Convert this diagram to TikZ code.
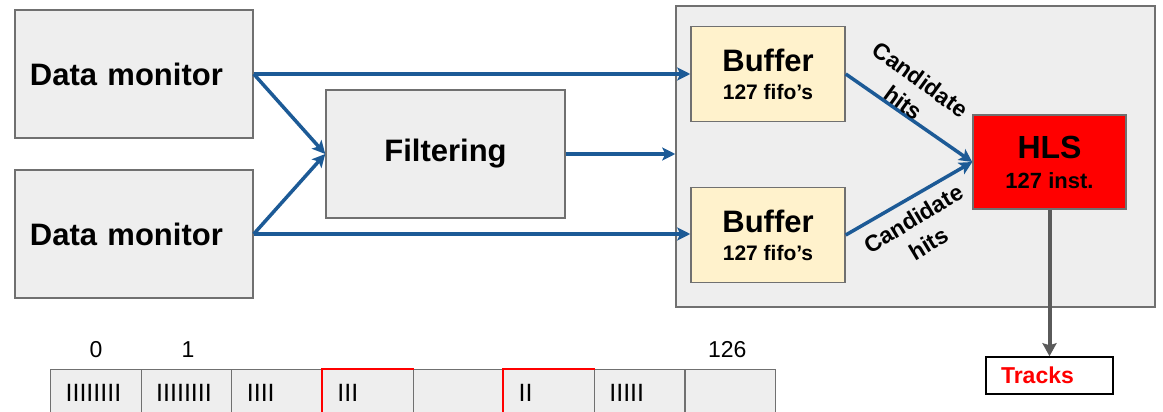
\documentclass[tikz,border=0pt]{standalone}
\usepackage{fontspec}
\setmainfont{Liberation Sans}
\usetikzlibrary{arrows.meta}
\definecolor{boxgray}{HTML}{EEEEEE}
\definecolor{edgegray}{HTML}{707070}
\definecolor{flowblue}{HTML}{1C5A96}
\definecolor{bufyellow}{HTML}{FFF2CC}
\definecolor{outgray}{HTML}{5A5A5A}
\begin{document}
\begin{tikzpicture}[x=1pt,y=-1pt,
  box/.style={draw=edgegray, fill=boxgray, line width=1.5pt, inner sep=0pt},
  dmbox/.style={box, minimum width=238, minimum height=128, inner xsep=15pt,
    text width=208pt, align=left, font=\fontsize{31}{37}\selectfont\bfseries},
  bufbox/.style={box, fill=bufyellow, minimum width=154, minimum height=95,
    align=center, font=\fontsize{21}{28}\selectfont\bfseries},
  hlsbox/.style={box, fill=red, minimum width=153, minimum height=94,
    align=center, font=\fontsize{22}{30}\selectfont\bfseries},
  bigfont/.style={font=\fontsize{31}{37}\selectfont\bfseries},
  flow/.style={draw=flowblue, line width=3.5pt,
    -{Stealth[length=13pt,width=13pt,inset=3pt]}},
  outflow/.style={draw=outgray, line width=4pt,
    -{Stealth[length=13pt,width=14pt,inset=2pt]}},
  cand/.style={align=center, inner sep=0pt, font=\fontsize{23}{29}\selectfont\bfseries},
  cell/.style={box, line width=1.2pt, minimum width=90.625, minimum height=46,
    inner xsep=15pt, text width=60.625pt, align=left, anchor=north west,
    font=\fontsize{25}{30}\selectfont},
  numlab/.style={inner sep=0pt, font=\fontsize{23}{27}\selectfont},
]
\clip (0,0) rectangle (1163,412);
\fill[white] (0,0) rectangle (1163,412);

% panel
\node[box, minimum width=479, minimum height=301] (panel) at (915.5,156.5) {};

% data monitors
\node[dmbox] (dm1) at (134,74) {Data monitor};
\node[dmbox] (dm2) at (134,234) {Data monitor};

% filtering
\node[box, minimum width=239, minimum height=128, bigfont] (filt) at (445.5,154) {Filtering};

% buffers
\node[bufbox] (buf1) at (768,74) {{\fontsize{31}{37}\selectfont Buffer}\\127 fifo’s};
\node[bufbox] (buf2) at (768,235) {{\fontsize{31}{37}\selectfont Buffer}\\127 fifo’s};

% HLS
\node[hlsbox] (hls) at (1049.5,162) {{\fontsize{32}{38}\selectfont HLS}\\127 inst.};

% tracks
\node[draw=black, fill=white, line width=1.5pt, inner sep=0pt, inner xsep=15pt,
  minimum width=127, minimum height=37, text width=97pt, align=left,
  text=red, font=\fontsize{23}{28}\selectfont\bfseries] (tracks) at (1049.5,375.5) {Tracks};

% arrows
\draw[flow] (dm1.east) -- (buf1.west);
\draw[flow] (dm1.east) -- (filt.west);
\draw[flow] (dm2.east) -- (filt.west);
\draw[flow] (dm2.east) -- (dm2.east -| buf2.west);
\draw[flow] (filt.east) -- (filt.east -| panel.west);
\draw[flow] (buf1.east) -- (hls.west);
\draw[flow] (buf2.east) -- (hls.west);
\draw[outflow] (hls.south) -- (tracks.north);

% candidate labels
\node[cand, rotate=-36] (cand1) at (912,91) {Candidate\\hits};
\node[cand, rotate=31] (cand2) at (921,231) {Candidate\\hits};

% bottom array
\foreach \t [count=\i] in {IIIIIIII,IIIIIIII,IIII,III,{},II,IIIII,{}} {
  \node[cell] (c\i) at ({50+(\i-1)*90.625},369) {\t};
}
\draw[red, line width=2pt] (c4.south west) -- (c4.north west) -- (c4.north east);
\draw[red, line width=2pt] (c6.south west) -- (c6.north west) -- (c6.north east);

\coordinate (numrow) at (0,350);
\node[numlab] (n0) at (c1.north |- numrow) {0};
\node[numlab] (n1) at ([xshift=1.5pt]c2.north |- numrow) {1};
\node[numlab] (n126) at ([xshift=-3pt]c8.north |- numrow) {126};
\end{tikzpicture}
\end{document}
